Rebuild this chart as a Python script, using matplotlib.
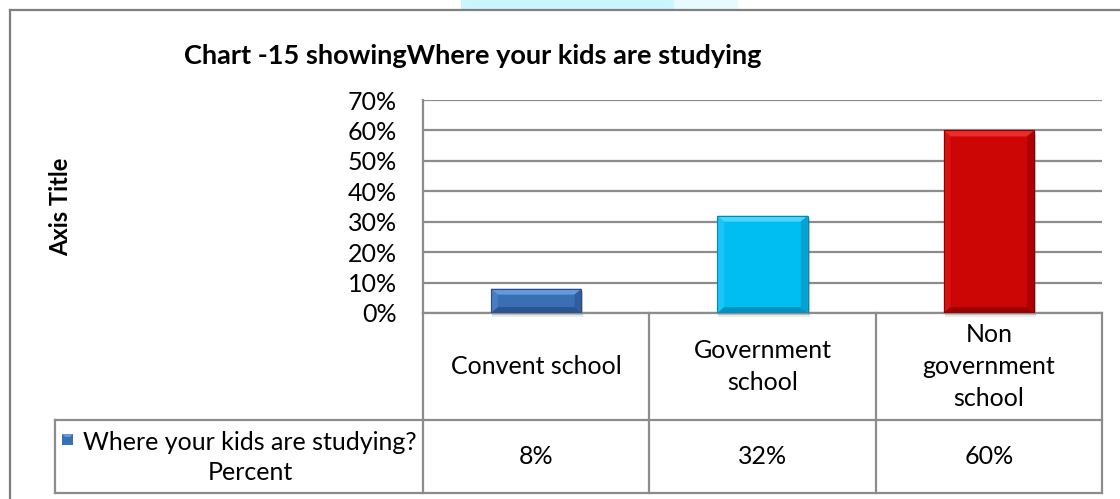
#! /usr/bin/env python
import matplotlib
matplotlib.use('Agg')
import matplotlib.pyplot as plt
from matplotlib.patches import Polygon, Rectangle

title = 'Chart -15 showingWhere your kids are studying'
axis_title = 'Axis Title'
series_name = 'Where your kids are studying?'
series_unit = 'Percent'
categories = ['Convent school', 'Government\nschool', 'Non\ngovernment\nschool']
values = [8, 32, 60]
value_labels = ['8%', '32%', '60%']
yticks = [0, 10, 20, 30, 40, 50, 60, 70]
ytick_labels = ['0%', '10%', '20%', '30%', '40%', '50%', '60%', '70%']

bar_colors = ['#3a6fb5', '#00bdf2', '#cc0505']
bevel_light = ['#639ade', '#4ad6ff', '#ec2b2b']
bevel_dark = ['#284f88', '#0089b5', '#8e0000']
grid_color = '#8c8c8c'

plt.rcParams['font.family'] = ['Lato', 'DejaVu Sans']

# layout in pixels (figure is 1120x499)
W, H = 1120, 499
PL, PR, PT, PB = 423, 1102, 100, 313
ROW1_B, ROW2_B = 420, 493
LABEL_L = 55
FS = 18

fig = plt.figure(figsize=(W / 100, H / 100), dpi=100)

# overlay in pixel coordinates for frame + free text
bg = fig.add_axes([0, 0, 1, 1])
bg.set_xlim(0, W)
bg.set_ylim(H, 0)
bg.axis('off')
bg.set_zorder(0)

# faint watermark band at the top
bg.add_patch(Rectangle((461, 0), 213, 9, color='#ccf6ff', lw=0))
bg.add_patch(Rectangle((674, 0), 64, 9, color='#e6fbff', lw=0))
# chart border
bg.plot([10, W], [10, 10], color='#7f7f7f', lw=1.6)
bg.plot([10, 10], [10, H], color='#7f7f7f', lw=1.6)

bg.text(473, 56, title, ha='center', va='center', fontsize=19.5, fontweight='bold')
bg.text(61, 207, axis_title, ha='center', va='center', rotation=90, fontsize=17,
        fontweight='bold')

# plot area
ax = fig.add_axes([PL / W, 1 - PB / H, (PR - PL) / W, (PB - PT) / H])
ax.set_zorder(1)
ax.patch.set_alpha(0)
ax.set_xlim(-0.5, len(values) - 0.5)
ax.set_ylim(0, 70)
ax.set_yticks(yticks)
ax.set_yticklabels(ytick_labels)
ax.set_xticks([])
ax.tick_params(axis='y', length=0, pad=19, labelsize=FS)
ax.grid(axis='y', color=grid_color, lw=1.6, zorder=0)
ax.set_axisbelow(True)
for s in ['top', 'right']:
    ax.spines[s].set_visible(False)
for s in ['left', 'bottom']:
    ax.spines[s].set_color(grid_color)
    ax.spines[s].set_linewidth(1.6)

xs = list(range(len(values)))
bw = 0.4
bars = ax.bar(xs, values, width=bw, color=bar_colors, zorder=3)

# bevel look
dx = (len(values)) / (PR - PL)
dy = 70 / (PB - PT)
bx, by = 7 * dx, 6 * dy
for i, b in enumerate(bars):
    x0, x1 = b.get_x(), b.get_x() + b.get_width()
    y1 = b.get_height()
    # soft shadow
    for k, a in [(2, 0.25), (4, 0.12)]:
        ax.add_patch(Rectangle((x0 + 1 * dx, -k * dy), bw + 1 * dx, y1, color='#555555',
                               alpha=a, lw=0, zorder=2, clip_on=False))
    ax.add_patch(Polygon([(x0, y1), (x1, y1), (x1 - bx, y1 - by), (x0 + bx, y1 - by)],
                         color=bevel_light[i], lw=0, zorder=4))
    ax.add_patch(Polygon([(x0, 0), (x1, 0), (x1 - bx, by), (x0 + bx, by)],
                         color=bevel_dark[i], alpha=0.8, lw=0, zorder=4))
    ax.add_patch(Polygon([(x1, 0), (x1, y1), (x1 - bx, y1 - by), (x1 - bx, by)],
                         color=bevel_dark[i], alpha=0.5, lw=0, zorder=4))
    ax.add_patch(Polygon([(x0, 0), (x0, y1), (x0 + bx, y1 - by), (x0 + bx, by)],
                         color=bevel_light[i], alpha=0.35, lw=0, zorder=4))
    ax.add_patch(Rectangle((x0, 0), bw, y1, fill=False, ec=bevel_dark[i], lw=0.8, zorder=5))

# data table under the plot
def fy(py):
    return (PB - py) / (PB - PT)

def fx(px):
    return (px - PL) / (PR - PL)

xt = ax.get_xaxis_transform()
for edge in [x - 0.5 for x in xs] + [xs[-1] + 0.5]:
    ax.plot([edge, edge], [0, fy(ROW2_B)], color=grid_color, lw=1.6, transform=xt,
            clip_on=False)
for row in [ROW1_B, ROW2_B]:
    ax.plot([fx(LABEL_L), 1], [fy(row), fy(row)], color=grid_color, lw=1.6,
            transform=ax.transAxes, clip_on=False)
ax.plot([fx(LABEL_L), fx(LABEL_L)], [fy(ROW1_B), fy(ROW2_B)], color=grid_color, lw=1.6,
        transform=ax.transAxes, clip_on=False)

row1_c = fy((PB + ROW1_B) / 2)
row2_c = fy((ROW1_B + ROW2_B) / 2)
for x, cat, lab in zip(xs, categories, value_labels):
    ax.text(x, row1_c, cat, transform=xt, ha='center', va='center', fontsize=FS,
            linespacing=1.45)
    ax.text(x, row2_c, lab, transform=xt, ha='center', va='center', fontsize=FS)

# series label cell with legend key
bg.text(250, 442, series_name, ha='center', va='center', fontsize=FS)
bg.text(250, 472, series_unit, ha='center', va='center', fontsize=FS)
bg.add_patch(Rectangle((62, 434), 11, 11, color=bar_colors[0], lw=0))
bg.add_patch(Polygon([(62, 434), (73, 434), (70, 437), (65, 437)], color=bevel_light[0], lw=0))

fig.savefig('out.png', dpi=100)
